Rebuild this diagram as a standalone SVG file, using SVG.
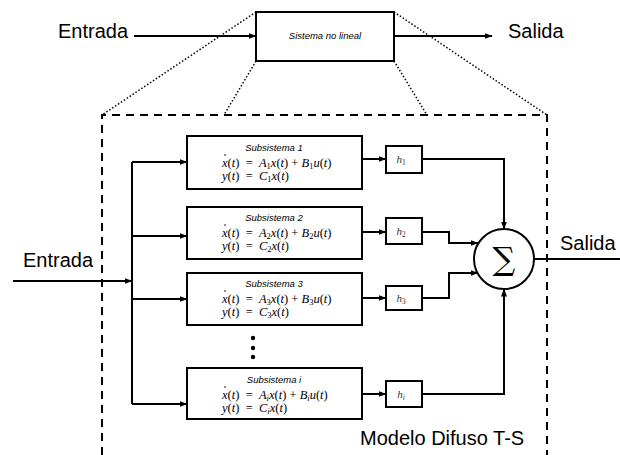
<svg xmlns="http://www.w3.org/2000/svg" width="620" height="455" viewBox="0 0 620 455">
<defs>
<marker id="ah" markerWidth="8" markerHeight="7" refX="7.5" refY="3.5" orient="auto" markerUnits="userSpaceOnUse"><path d="M0,0.5 L8,3.5 L0,6.5 z" fill="#000"/></marker>
</defs>
<style>
.box{fill:#fff;stroke:#000;stroke-width:2}
.ln{fill:none;stroke:#000;stroke-width:2}
.dot{fill:none;stroke:#000;stroke-width:1.5;stroke-dasharray:1.5 2}
.dash{fill:none;stroke:#000;stroke-width:2;stroke-dasharray:8 6}
.big{font-family:"Liberation Sans",Arial,sans-serif;font-size:20px;fill:#000}
.ttl{font-family:"Liberation Sans",Arial,sans-serif;font-size:9.5px;font-style:italic;fill:#000}
.eq{font-family:"Liberation Serif","Times New Roman",serif;font-size:12.5px;font-style:italic;fill:#000}
.up{font-style:normal}
.h{font-family:"Liberation Serif","Times New Roman",serif;font-size:11px;font-style:italic;fill:#333}
</style>
<rect width="620" height="455" fill="#fff"/>
<g id="frame">
<path class="dot" d="M256,12 L102,115 M256,61 L224,115 M394,12 L547,115 M394,61 L427,115"/>
<path class="dash" d="M102,455 V115 H547 V455"/>
</g>
<g id="sistema">
<rect class="box" x="256" y="12" width="138" height="49"/>
<text class="ttl" x="325" y="39" text-anchor="middle">Sistema no lineal</text>
</g>
<g id="labels">
<text class="big" x="58" y="38" font-size="18.5">Entrada</text>
<text class="big" x="508" y="38">Salida</text>
<text class="big" x="23" y="267">Entrada</text>
<text class="big" x="560" y="250">Salida</text>
<text class="big" x="360" y="445">Modelo Difuso T-S</text>
</g>
<g id="sub1">
<rect class="box" x="187" y="136" width="175" height="53"/>
<text class="ttl" x="274" y="151" text-anchor="middle">Subsistema 1</text>
<circle cx="225" cy="155" r="0.8" fill="#000"/>
<text class="eq" x="222" y="167" xml:space="preserve">x<tspan class="up">(</tspan>t<tspan class="up">)  =  </tspan>A<tspan font-size="8.5" dy="2" class="up">1</tspan><tspan dy="-2">x</tspan><tspan class="up">(</tspan>t<tspan class="up">) + </tspan>B<tspan font-size="8.5" dy="2" class="up">1</tspan><tspan dy="-2">u</tspan><tspan class="up">(</tspan>t<tspan class="up">)</tspan></text>
<text class="eq" x="222" y="180" xml:space="preserve">y<tspan class="up">(</tspan>t<tspan class="up">)  =  </tspan>C<tspan font-size="8.5" dy="2" class="up">1</tspan><tspan dy="-2">x</tspan><tspan class="up">(</tspan>t<tspan class="up">)</tspan></text>
</g>
<g id="sub2">
<rect class="box" x="187" y="207" width="175" height="52"/>
<text class="ttl" x="274" y="221" text-anchor="middle">Subsistema 2</text>
<circle cx="225" cy="225" r="0.8" fill="#000"/>
<text class="eq" x="222" y="237" xml:space="preserve">x<tspan class="up">(</tspan>t<tspan class="up">)  =  </tspan>A<tspan font-size="8.5" dy="2" class="up">2</tspan><tspan dy="-2">x</tspan><tspan class="up">(</tspan>t<tspan class="up">) + </tspan>B<tspan font-size="8.5" dy="2" class="up">2</tspan><tspan dy="-2">u</tspan><tspan class="up">(</tspan>t<tspan class="up">)</tspan></text>
<text class="eq" x="222" y="250" xml:space="preserve">y<tspan class="up">(</tspan>t<tspan class="up">)  =  </tspan>C<tspan font-size="8.5" dy="2" class="up">2</tspan><tspan dy="-2">x</tspan><tspan class="up">(</tspan>t<tspan class="up">)</tspan></text>
</g>
<g id="sub3">
<rect class="box" x="187" y="273" width="175" height="52"/>
<text class="ttl" x="274" y="287" text-anchor="middle">Subsistema 3</text>
<circle cx="225" cy="291" r="0.8" fill="#000"/>
<text class="eq" x="222" y="303" xml:space="preserve">x<tspan class="up">(</tspan>t<tspan class="up">)  =  </tspan>A<tspan font-size="8.5" dy="2" class="up">3</tspan><tspan dy="-2">x</tspan><tspan class="up">(</tspan>t<tspan class="up">) + </tspan>B<tspan font-size="8.5" dy="2" class="up">3</tspan><tspan dy="-2">u</tspan><tspan class="up">(</tspan>t<tspan class="up">)</tspan></text>
<text class="eq" x="222" y="316" xml:space="preserve">y<tspan class="up">(</tspan>t<tspan class="up">)  =  </tspan>C<tspan font-size="8.5" dy="2" class="up">3</tspan><tspan dy="-2">x</tspan><tspan class="up">(</tspan>t<tspan class="up">)</tspan></text>
</g>
<g id="dots">
<circle cx="253" cy="338" r="2.2" fill="#000"/>
<circle cx="253" cy="348" r="2.2" fill="#000"/>
<circle cx="253" cy="357" r="2.2" fill="#000"/>
</g>
<g id="subi">
<rect class="box" x="187" y="368" width="175" height="51"/>
<text class="ttl" x="274" y="383" text-anchor="middle">Subsistema i</text>
<circle cx="225" cy="387" r="0.8" fill="#000"/>
<text class="eq" x="222" y="399" xml:space="preserve">x<tspan class="up">(</tspan>t<tspan class="up">)  =  </tspan>A<tspan font-size="8.5" dy="2">i</tspan><tspan dy="-2">x</tspan><tspan class="up">(</tspan>t<tspan class="up">) + </tspan>B<tspan font-size="8.5" dy="2">i</tspan><tspan dy="-2">u</tspan><tspan class="up">(</tspan>t<tspan class="up">)</tspan></text>
<text class="eq" x="222" y="412" xml:space="preserve">y<tspan class="up">(</tspan>t<tspan class="up">)  =  </tspan>C<tspan font-size="8.5" dy="2">i</tspan><tspan dy="-2">x</tspan><tspan class="up">(</tspan>t<tspan class="up">)</tspan></text>
</g>
<g id="h1"><rect class="box" x="386" y="146" width="36" height="27"/><text class="h" x="401" y="163" text-anchor="middle">h<tspan font-size="7.5" dy="2" font-style="normal">1</tspan></text></g>
<g id="h2"><rect class="box" x="386" y="218" width="36" height="26"/><text class="h" x="401" y="235" text-anchor="middle">h<tspan font-size="7.5" dy="2" font-style="normal">2</tspan></text></g>
<g id="h3"><rect class="box" x="386" y="286" width="36" height="24"/><text class="h" x="401" y="302" text-anchor="middle">h<tspan font-size="7.5" dy="2" font-style="normal">3</tspan></text></g>
<g id="hi"><rect class="box" x="386" y="381" width="36" height="26"/><text class="h" x="401" y="398" text-anchor="middle">h<tspan font-size="7.5" dy="2">i</tspan></text></g>
<g id="sum">
<circle cx="504" cy="259" r="30" fill="#fff" stroke="#000" stroke-width="2"/>
<text x="504" y="270" text-anchor="middle" font-family="'DejaVu Serif','Liberation Serif',serif" font-size="32" font-weight="200" fill="#000">∑</text>
</g>
<g id="connectors">
<path class="ln" d="M134,36 H256" marker-end="url(#ah)"/>
<path class="ln" d="M394,36 H492" marker-end="url(#ah)"/>
<path class="ln" d="M13,281 H132" marker-end="url(#ah)"/>
<path class="ln" d="M132,162 V404"/>
<path class="ln" d="M132,162 H187" marker-end="url(#ah)"/>
<path class="ln" d="M132,236 H187" marker-end="url(#ah)"/>
<path class="ln" d="M132,299 H187" marker-end="url(#ah)"/>
<path class="ln" d="M132,404 H187" marker-end="url(#ah)"/>
<path class="ln" d="M362,159 H386" marker-end="url(#ah)"/>
<path class="ln" d="M362,232 H386" marker-end="url(#ah)"/>
<path class="ln" d="M362,298 H386" marker-end="url(#ah)"/>
<path class="ln" d="M362,394 H386" marker-end="url(#ah)"/>
<path class="ln" d="M422,159 H504 V229" marker-end="url(#ah)"/>
<path class="ln" d="M422,232 H449 V243 H478" marker-end="url(#ah)"/>
<path class="ln" d="M422,298 H449 V273 H478" marker-end="url(#ah)"/>
<path class="ln" d="M422,394 H504 V289" marker-end="url(#ah)"/>
<path class="ln" d="M534,259 H620"/>
</g>
</svg>
